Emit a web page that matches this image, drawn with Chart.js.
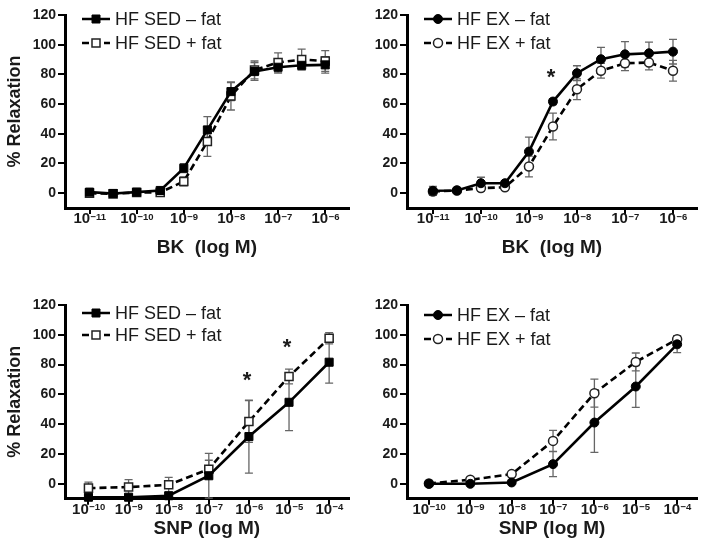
<!DOCTYPE html>
<html>
<head>
<meta charset="utf-8">
<script src="https://cdn.jsdelivr.net/npm/chart.js@4"></script>
<style>
  body { margin: 0; background: #fff; width: 704px; height: 553px; position: relative; overflow: hidden; }
  canvas { position: absolute; }
</style>
</head>
<body>
<canvas id="c1" width="356" height="275" style="left:0;top:0"></canvas>
<canvas id="c2" width="352" height="275" style="left:352px;top:0"></canvas>
<canvas id="c3" width="356" height="273" style="left:0;top:280px"></canvas>
<canvas id="c4" width="352" height="273" style="left:352px;top:280px"></canvas>
<script>
// doses as log10 M
const bkDoses = [-11, -10.5, -10, -9.5, -9, -8.5, -8, -7.5, -7, -6.5, -6];
const snpDoses = [-10, -9, -8, -7, -6, -5, -4];
const bkTicks = [-11, -10, -9, -8, -7, -6];
const snpTicks = [-10, -9, -8, -7, -6, -5, -4];
const yTicks = [0, 20, 40, 60, 80, 100, 120];

// BK, HF SED
const sedMinusBK = [0.7, -0.2, 0.7, 1.8, 16.8, 42.6, 68.4, 81.9, 84.8, 86.1, 86.4];
const sedMinusBKErr = [1, 0.8, 1, 1, 3, 9, 6, 6, 4, 3, 5.5];
const sedPlusBK = [0, -0.5, 0.5, 0.5, 7.9, 34.8, 65.5, 83, 88, 90, 89];
const sedPlusBKErr = [1, 0.8, 1, 1, 3, 10, 9.5, 6, 6.5, 7, 7];

// BK, HF EX
const exMinusBK = [1.6, 1.8, 6.7, 6.7, 28, 61.7, 80.8, 90.2, 93.5, 94.2, 95.3];
const exMinusBKErr = [3, 1, 4, 1.5, 9.7, 2, 5, 8, 8.5, 7.5, 8.3];
const exPlusBK = [1.1, 1.8, 3.4, 4, 18, 44.9, 70, 82.5, 87.5, 88, 82.5];
const exPlusBKErr = [2, 1, 2, 1.5, 7, 9, 7, 5, 5, 5, 7];

// SNP, HF SED
const sedMinusSNP = [-9, -9, -8, 5.4, 31.7, 54.7, 81.6];
const sedMinusSNPErr = [1, 1, 1, 15, 24.5, 19, 14];
const sedPlusSNP = [-2.9, -2.2, -0.7, 9.8, 41.8, 72, 97.7];
const sedPlusSNPErr = [4, 5, 5, 6, 14, 5, 3.8];

// SNP, HF EX
const exMinusSNP = [0, 0, 0.9, 13.2, 41.1, 65.3, 93.6];
const exMinusSNPErr = [0.5, 0.5, 0.8, 8.4, 20, 14, 5.6];
const exPlusSNP = [0.2, 2.7, 6.5, 28.8, 60.8, 81.8, 97];
const exPlusSNPErr = [0.5, 1, 1, 7, 9.4, 6, 2.2];

// significance marks [dose, y]
const starsBKEX = [[-8.5, 82]];
const starsSNPSED = [[-6, 74], [-5, 96]];

const FONT = '"Liberation Sans", Arial, sans-serif';
const INK = '#1a1a1a';

function drawMarker(ctx, style, open, x, y) {
  ctx.save();
  ctx.fillStyle = open ? '#fff' : '#000';
  ctx.strokeStyle = open ? '#222' : '#000';
  ctx.lineWidth = open ? 1.5 : 1;
  ctx.setLineDash([]);
  ctx.beginPath();
  if (style === 'rect') ctx.rect(x - 4, y - 4, 8, 8);
  else ctx.arc(x, y, 4.5, 0, Math.PI * 2);
  ctx.fill();
  ctx.stroke();
  ctx.restore();
}

function makeDecor(p) {
  return {
    id: 'decor',
    beforeDatasetsDraw(chart) {
      const { ctx, scales: { x, y } } = chart;
      ctx.save();
      ctx.strokeStyle = '#666';
      ctx.lineWidth = 1.3;
      p.series.forEach(s => {
        p.doses.forEach((d, i) => {
          const e = s.err[i];
          const px = x.getPixelForValue(d);
          const y1 = y.getPixelForValue(s.values[i] + e);
          const y2 = y.getPixelForValue(s.values[i] - e);
          ctx.beginPath();
          ctx.moveTo(px, y1); ctx.lineTo(px, y2);
          ctx.moveTo(px - 4, y1); ctx.lineTo(px + 4, y1);
          ctx.moveTo(px - 4, y2); ctx.lineTo(px + 4, y2);
          ctx.stroke();
        });
      });
      ctx.restore();
    },
    afterDraw(chart) {
      const { ctx, chartArea: a, scales: { x, y } } = chart;
      ctx.save();
      ctx.fillStyle = INK;

      // y tick labels
      ctx.font = 'bold 14px ' + FONT;
      ctx.textAlign = 'right';
      ctx.textBaseline = 'middle';
      yTicks.forEach(v => ctx.fillText(String(v), a.left - 9, y.getPixelForValue(v)));

      // x tick labels as 10^n
      ctx.textAlign = 'left';
      ctx.textBaseline = 'alphabetic';
      const base = a.bottom + 15;
      p.ticks.forEach(t => {
        const exp = '\u2212' + Math.abs(t);
        ctx.font = 'bold 15px ' + FONT;
        const w1 = ctx.measureText('10').width;
        ctx.font = 'bold 9.5px ' + FONT;
        const w2 = ctx.measureText(exp).width;
        const x0 = x.getPixelForValue(t) - (w1 + w2) / 2;
        ctx.font = 'bold 15px ' + FONT;
        ctx.fillText('10', x0, base);
        ctx.font = 'bold 9.5px ' + FONT;
        ctx.fillText(exp, x0 + w1 + 0.5, base - 3.5);
      });

      // x title
      ctx.font = 'bold 19px ' + FONT;
      ctx.textAlign = 'center';
      ctx.fillText(p.xTitle, (a.left + a.right) / 2, a.bottom + p.titleOff);

      // y title
      if (p.yTitle) {
        ctx.save();
        ctx.font = 'bold 18px ' + FONT;
        ctx.translate(15, (a.top + a.bottom) / 2);
        ctx.rotate(-Math.PI / 2);
        ctx.textBaseline = 'middle';
        ctx.fillText('% Relaxation', 0, 0);
        ctx.restore();
      }

      // stars
      ctx.font = 'bold 22px ' + FONT;
      ctx.textAlign = 'center';
      ctx.textBaseline = 'alphabetic';
      p.stars.forEach(([d, v]) => {
        ctx.fillText('*', x.getPixelForValue(d) - 2, y.getPixelForValue(v) + 13);
      });

      // legend
      p.series.forEach((s, i) => {
        const ly = p.legendY[i];
        const lx = a.left + 17;
        ctx.save();
        ctx.strokeStyle = '#000';
        ctx.lineWidth = 2.5;
        ctx.setLineDash(s.dashed ? [7, 4] : []);
        ctx.beginPath();
        ctx.moveTo(lx, ly); ctx.lineTo(lx + 28, ly);
        ctx.stroke();
        ctx.restore();
        drawMarker(ctx, p.marker, s.open, lx + 14, ly);
        ctx.font = '18px ' + FONT;
        ctx.textAlign = 'left';
        ctx.textBaseline = 'middle';
        ctx.fillStyle = INK;
        ctx.fillText(s.label, lx + 33, ly + 1);
      });
      ctx.restore();
    }
  };
}

function makeChart(id, p) {
  return new Chart(document.getElementById(id), {
    type: 'line',
    data: {
      datasets: p.series.map(s => ({
        label: s.label,
        data: p.doses.map((d, i) => ({ x: d, y: s.values[i] })),
        borderColor: '#000',
        borderWidth: 2.6,
        borderDash: s.dashed ? [7, 4] : [],
        pointStyle: p.marker,
        pointRadius: p.marker === 'rect' ? 5.7 : 4.5,
        pointBackgroundColor: s.open ? '#fff' : '#000',
        pointBorderColor: s.open ? '#222' : '#000',
        pointBorderWidth: s.open ? 1.5 : 1,
        tension: 0,
        clip: false
      }))
    },
    options: {
      responsive: false,
      animation: false,
      layout: { padding: { top: p.top, right: p.right, left: 0, bottom: 0 } },
      plugins: { legend: { display: false }, tooltip: { enabled: false } },
      scales: {
        x: {
          type: 'linear',
          min: p.xMin,
          max: p.xMax,
          afterBuildTicks: sc => { sc.ticks = p.ticks.map(v => ({ value: v })); },
          afterFit: sc => { sc.height = p.xHeight; },
          ticks: { display: false },
          grid: { display: true, drawOnChartArea: false, drawTicks: true, tickLength: 6, color: '#000', lineWidth: 2 },
          border: { display: true, color: '#000', width: 3 }
        },
        y: {
          min: -10,
          max: 120,
          afterBuildTicks: sc => { sc.ticks = yTicks.map(v => ({ value: v })); },
          afterFit: sc => { sc.width = p.yWidth; },
          ticks: { display: false },
          grid: { display: true, drawOnChartArea: false, drawTicks: true, tickLength: 7, color: '#000', lineWidth: 2 },
          border: { display: true, color: '#000', width: 3 }
        }
      }
    },
    plugins: [makeDecor(p)]
  });
}

makeChart('c1', {
  doses: bkDoses, ticks: bkTicks, xMin: -11.52, xMax: -5.5,
  top: 15, right: 1, xHeight: 67, yWidth: 65,
  marker: 'rect', xTitle: 'BK  (log M)', titleOff: 45, yTitle: true,
  legendY: [19, 43], stars: [],
  series: [
    { label: 'HF SED \u2013 fat', values: sedMinusBK, err: sedMinusBKErr, dashed: false, open: false },
    { label: 'HF SED + fat', values: sedPlusBK, err: sedPlusBKErr, dashed: true, open: true }
  ]
});

makeChart('c2', {
  doses: bkDoses, ticks: bkTicks, xMin: -11.54, xMax: -5.5,
  top: 15, right: 7, xHeight: 67, yWidth: 55,
  marker: 'circle', xTitle: 'BK  (log M)', titleOff: 45, yTitle: false,
  legendY: [19, 43], stars: starsBKEX,
  series: [
    { label: 'HF EX \u2013 fat', values: exMinusBK, err: exMinusBKErr, dashed: false, open: false },
    { label: 'HF EX + fat', values: exPlusBK, err: exPlusBKErr, dashed: true, open: true }
  ]
});

makeChart('c3', {
  doses: snpDoses, ticks: snpTicks, xMin: -10.585, xMax: -3.51,
  top: 25, right: 1, xHeight: 54.3, yWidth: 65,
  marker: 'rect', xTitle: 'SNP (log M)', titleOff: 35, yTitle: true,
  legendY: [33, 55], stars: starsSNPSED,
  series: [
    { label: 'HF SED \u2013 fat', values: sedMinusSNP, err: sedMinusSNPErr, dashed: false, open: false },
    { label: 'HF SED + fat', values: sedPlusSNP, err: sedPlusSNPErr, dashed: true, open: true }
  ]
});

makeChart('c4', {
  doses: snpDoses, ticks: snpTicks, xMin: -10.53, xMax: -3.52,
  top: 25, right: 7, xHeight: 54.3, yWidth: 55,
  marker: 'circle', xTitle: 'SNP (log M)', titleOff: 35, yTitle: false,
  legendY: [35, 59], stars: [],
  series: [
    { label: 'HF EX \u2013 fat', values: exMinusSNP, err: exMinusSNPErr, dashed: false, open: false },
    { label: 'HF EX + fat', values: exPlusSNP, err: exPlusSNPErr, dashed: true, open: true }
  ]
});
</script>
</body>
</html>
